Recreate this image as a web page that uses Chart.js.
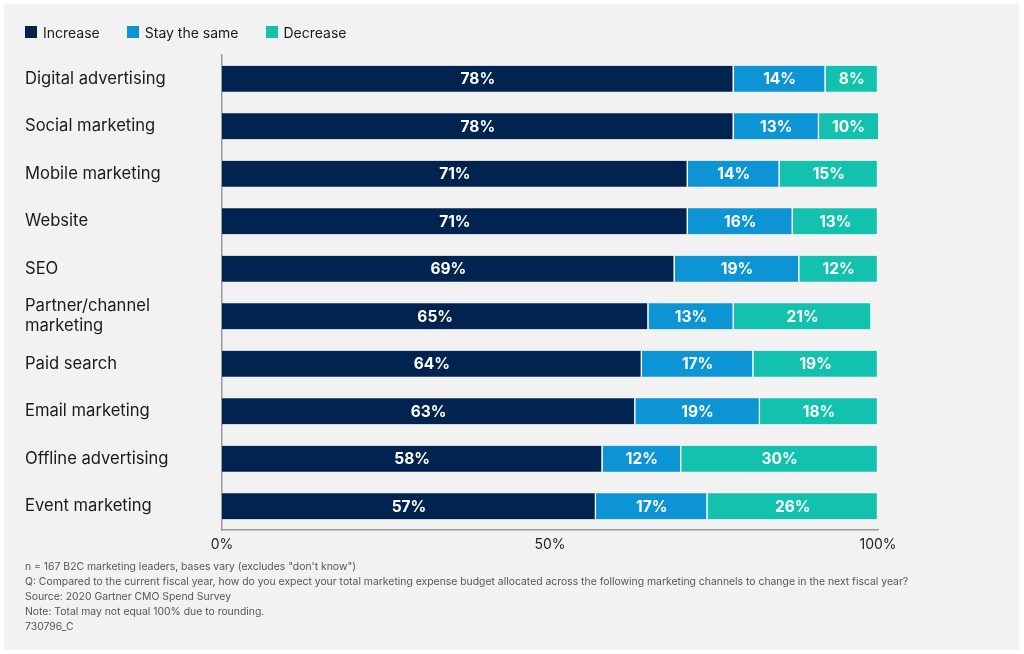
<!DOCTYPE html>
<html>
<head>
<meta charset="utf-8">
<script src="https://cdn.jsdelivr.net/npm/chart.js@4/dist/chart.umd.min.js"></script>
<style>
  body { margin: 0; background: #ffffff; font-family: "Inter", "Roboto", sans-serif; }
  #panel { position: absolute; left: 4px; top: 4px; width: 1015px; height: 646px; background: #f2f2f2; }
  #wrap { position: absolute; left: 0; top: 0; width: 1024px; height: 560px; }
  #legend { position: absolute; left: 25px; top: 23px; display: flex; font-size: 14px; color: #1a1a1a; }
  #legend span.item { display: flex; align-items: center; margin-right: 27px; height: 18px; }
  #legend span.box { width: 12px; height: 12px; margin-right: 6px; }
  #notes { position: absolute; left: 25px; top: 559px; font-size: 10.4px; line-height: 15px; color: #555; }
</style>
</head>
<body>
<div id="panel"></div>
<div id="wrap"><canvas id="chart"></canvas></div>
<div id="legend"></div>
<div id="notes">
  <div>n = 167 B2C marketing leaders, bases vary (excludes "don't know")</div>
  <div>Q: Compared to the current fiscal year, how do you expect your total marketing expense budget allocated across the following marketing channels to change in the next fiscal year?</div>
  <div>Source: 2020 Gartner CMO Spend Survey</div>
  <div>Note: Total may not equal 100% due to rounding.</div>
  <div>730796_C</div>
</div>
<script>
const channels = [
  "Digital advertising", "Social marketing", "Mobile marketing", "Website", "SEO",
  ["Partner/channel", "marketing"], "Paid search", "Email marketing",
  "Offline advertising", "Event marketing"
];
const increase = [78, 78, 71, 71, 69, 65, 64, 63, 58, 57];
const staySame = [14, 13, 14, 16, 19, 13, 17, 19, 12, 17];
const decrease = [8, 10, 15, 13, 12, 21, 19, 18, 30, 26];
const xTicks = [0, 50, 100];

// draws the white % values in the middle of each segment
const barValues = {
  id: "barValues",
  afterDatasetsDraw(chart) {
    const ctx = chart.ctx;
    ctx.save();
    ctx.fillStyle = "#ffffff";
    ctx.font = "bold 15.5px Inter, Roboto, sans-serif";
    ctx.textAlign = "center";
    ctx.textBaseline = "middle";
    chart.data.datasets.forEach((ds, i) => {
      chart.getDatasetMeta(i).data.forEach((bar, j) => {
        const p = bar.getProps(["x", "y", "base"], true);
        const right = Math.min(p.x, chart.chartArea.right);
        ctx.fillText(ds.data[j] + "%", (p.base + right) / 2, p.y + 1);
      });
    });
    ctx.restore();
  }
};

const chart = new Chart(document.getElementById("chart"), {
  type: "bar",
  data: {
    labels: channels,
    datasets: [
      { label: "Increase", data: increase, backgroundColor: "#00244f" },
      { label: "Stay the same", data: staySame, backgroundColor: "#0d94d4" },
      { label: "Decrease", data: decrease, backgroundColor: "#12c2ae" }
    ]
  },
  options: {
    indexAxis: "y",
    responsive: true,
    maintainAspectRatio: false,
    animation: false,
    layout: { padding: { left: 25, right: 146, top: 55, bottom: 0 } },
    datasets: {
      bar: {
        barThickness: 26,
        borderColor: "#ffffff",
        borderWidth: { left: 0, top: 0, bottom: 0, right: 1.5 },
        borderSkipped: false
      }
    },
    scales: {
      x: {
        stacked: true,
        min: 0,
        max: 100,
        afterBuildTicks: (s) => { s.ticks = xTicks.map((v) => ({ value: v })); },
        afterFit: (s) => { s.height = 30; },
        grid: { display: false, drawTicks: false },
        border: { display: true, color: "#999999", width: 1.5 },
        ticks: { padding: 6, color: "#222", font: { size: 14, family: "Inter" }, callback: (v) => v + "%" }
      },
      y: {
        stacked: true,
        afterFit: (s) => { s.width = 197; },
        grid: { display: false, drawTicks: false },
        border: { display: true, color: "#999999", width: 1.5 },
        ticks: { crossAlign: "far", color: "#1a1a1a", font: { size: 16.6, family: "Inter" } }
      }
    },
    plugins: {
      legend: { display: false },
      tooltip: { enabled: false }
    }
  },
  plugins: [barValues]
});

// legend built from the chart's datasets
const legendEl = document.getElementById("legend");
chart.data.datasets.forEach((ds) => {
  const item = document.createElement("span");
  item.className = "item";
  item.innerHTML = `<span class="box" style="background:${ ds.backgroundColor }"></span>${ ds.label }`;
  legendEl.appendChild(item);
});
</script>
</body>
</html>
